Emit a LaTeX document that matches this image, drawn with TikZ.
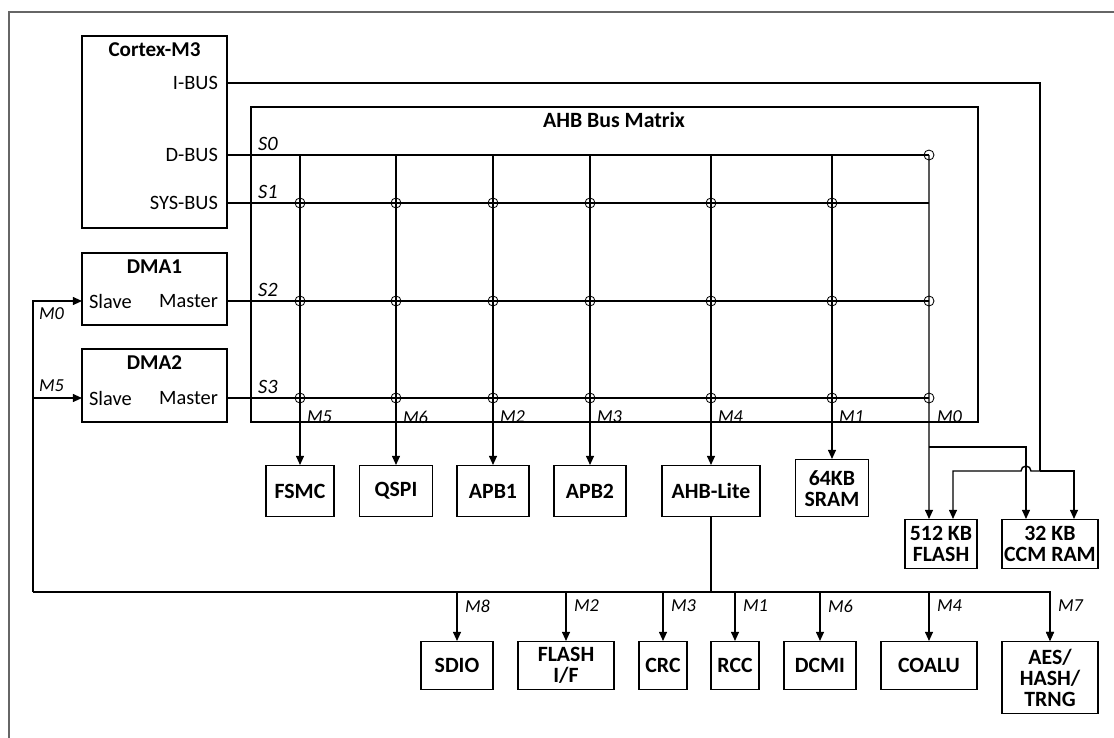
\documentclass[tikz,border=0pt]{standalone}
\usepackage{fontspec}
\setmainfont{Carlito}
\usetikzlibrary{arrows.meta}
\begin{document}
\begin{tikzpicture}[x=0.025cm, y=-0.025cm, line width=1pt,
  every node/.style={font=\fontsize{14.5}{16.5}\selectfont},
  blk/.style={draw,line width=1pt,inner sep=0pt,align=center,font=\bfseries\fontsize{15.5}{15}\selectfont},
  ttl/.style={font=\bfseries\fontsize{15}{17}\selectfont},
  port/.style={inner sep=1pt},
  slab/.style={font=\itshape\fontsize{14.5}{16}\selectfont,inner sep=1pt,anchor=west},
  mlab/.style={font=\itshape\fontsize{13}{15}\selectfont,inner sep=1pt,anchor=west},
  bus/.style={line width=1pt},
  arr/.style={line width=1pt,-{Triangle[length=2.3mm,width=2mm]}},
  tap/.style={line width=0.6pt},
  frame/.style={line width=1.1pt,black!60}]
\useasboundingbox (0,0) rectangle (1114,738);
\draw[frame] (1114,12) -- (9,12) -- (9,738);
% masters
\node[blk,minimum width=3.625cm,minimum height=4.8cm] (cortex) at (154.5,132) {};
\node[ttl] (cortexT) at (154.5,50) {Cortex-M3};
\node[port,anchor=east] (ibusL) at (220,83) {I-BUS};
\node[port,anchor=east] (dbusL) at (220,155) {D-BUS};
\node[port,anchor=east] (sbusL) at (220,203) {SYS-BUS};
\node[blk,minimum width=3.625cm,minimum height=1.8cm] (dma1) at (154.5,289) {};
\node[ttl] (dma1T) at (154.5,267) {DMA1};
\node[port,anchor=west] (dma1S) at (87,301) {Slave};
\node[port,anchor=east] (dma1M) at (220,301) {Master};
\node[blk,minimum width=3.625cm,minimum height=1.825cm] (dma2) at (154.5,385.5) {};
\node[ttl] (dma2T) at (154.5,363) {DMA2};
\node[port,anchor=west] (dma2S) at (87,398) {Slave};
\node[port,anchor=east] (dma2M) at (220,398) {Master};
% bus matrix
\node[blk,minimum width=18.175cm,minimum height=7.875cm] (ahb) at (614.5,264.5) {};
\node[font=\bfseries\fontsize{15.5}{17}\selectfont] (ahbT) at (614,120) {AHB Bus Matrix};
\foreach \y/\s in {144/S0,192/S1,290/S2,387/S3} {\node[slab] at (256,\y) {\s};}
\coordinate (ibus) at (227,83);
\coordinate (ij) at (1040,471);
\coordinate (lb) at (33,592);
\coordinate (d1s) at (82,301);
\coordinate (d2s) at (82,398);
\draw[bus] (227,155) -- (929,155);
\draw[bus] (227,203) -- (929,203);
\draw[bus] (227,301) -- (929,301);
\draw[bus] (227,398) -- (929,398);
% slaves
\node[blk,minimum width=1.7cm,minimum height=1.275cm,anchor=north] (fsmc) at (300,465) {FSMC};
\node[blk,minimum width=1.825cm,minimum height=1.275cm,anchor=north] (qspi) at (396,465) {QSPI};
\node[blk,minimum width=1.8cm,minimum height=1.275cm,anchor=north] (apb1) at (493,465) {APB1};
\node[blk,minimum width=1.8cm,minimum height=1.275cm,anchor=north] (apb2) at (590,465) {APB2};
\node[blk,minimum width=2.45cm,minimum height=1.275cm,anchor=north] (lite) at (711,465) {AHB-Lite};
\node[blk,minimum width=1.825cm,minimum height=1.425cm,anchor=north] (sram) at (832,459) {64KB\\SRAM};
\node[blk,minimum width=1.8cm,minimum height=1.225cm,anchor=north] (flash) at (941,519) {512 KB\\FLASH};
\node[blk,minimum width=2.4cm,minimum height=1.225cm,anchor=north] (ccm) at (1050,519) {32 KB\\CCM RAM};
\foreach \n/\m in {fsmc/M5,qspi/M6,apb1/M2,apb2/M3,lite/M4,sram/M1} {
  \draw[arr] (\n.north |- 0,155) -- (\n.north);
  \node[mlab] at ([xshift=0.125cm]\n.north |- 0,417) {\m};
}
\node[mlab] at (935,417) {M0};
\draw[arr] (929,155) -- ([xshift=-0.3cm]flash.north);
\draw[arr] (929,447) -| ([xshift=-0.6cm]ccm.north);
\draw[bus] (ibus) -| (ij);
\draw[arr] (ij) -- ++(-9,0) arc[start angle=0,end angle=-180,radius=5] -| ([xshift=0.3cm]flash.north);
\draw[arr] (ij) -| ([xshift=0.6cm]ccm.north);
\foreach \x in {929} {\draw[tap] (\x,155) circle[radius=5];}
\foreach \x in {300,396,493,590,711,832} {\draw[tap] (\x,203) circle[radius=5];}
\foreach \x in {300,396,493,590,711,832,929} {\draw[tap] (\x,301) circle[radius=5]; \draw[tap] (\x,398) circle[radius=5];}
% AHB-Lite peripherals
\node[blk,minimum width=1.8cm,minimum height=1.2cm,anchor=north] (sdio) at (457,641) {SDIO};
\node[blk,minimum width=2.4cm,minimum height=1.2cm,anchor=north] (flif) at (566,641) {FLASH\\I/F};
\node[blk,minimum width=1.2cm,minimum height=1.2cm,anchor=north] (crc) at (663,641) {CRC};
\node[blk,minimum width=1.2cm,minimum height=1.2cm,anchor=north] (rcc) at (735,641) {RCC};
\node[blk,minimum width=1.8cm,minimum height=1.2cm,anchor=north] (dcmi) at (820,641) {DCMI};
\node[blk,minimum width=2.4cm,minimum height=1.2cm,anchor=north] (coalu) at (929,641) {COALU};
\node[blk,minimum width=2.4cm,minimum height=1.8cm,anchor=north] (aes) at (1050,641) {AES/\\HASH/\\TRNG};
\draw[bus] (lite.south) -- (lite.south |- lb);
\draw[arr] (lb) -| (aes.north);
\foreach \n/\m in {sdio/M8,flif/M2,crc/M3,rcc/M1,dcmi/M6,coalu/M4,aes/M7} {
  \draw[arr] (\n.north |- lb) -- (\n.north);
  \node[mlab] at ([xshift=0.15cm]\n.north |- 0,606) {\m};
}
\draw[arr] (lb) |- (d1s);
\draw[arr] (lb |- d2s) -- (d2s);
\node[mlab] at (37,314) {M0};
\node[mlab] at (37,386) {M5};
\end{tikzpicture}
\end{document}
